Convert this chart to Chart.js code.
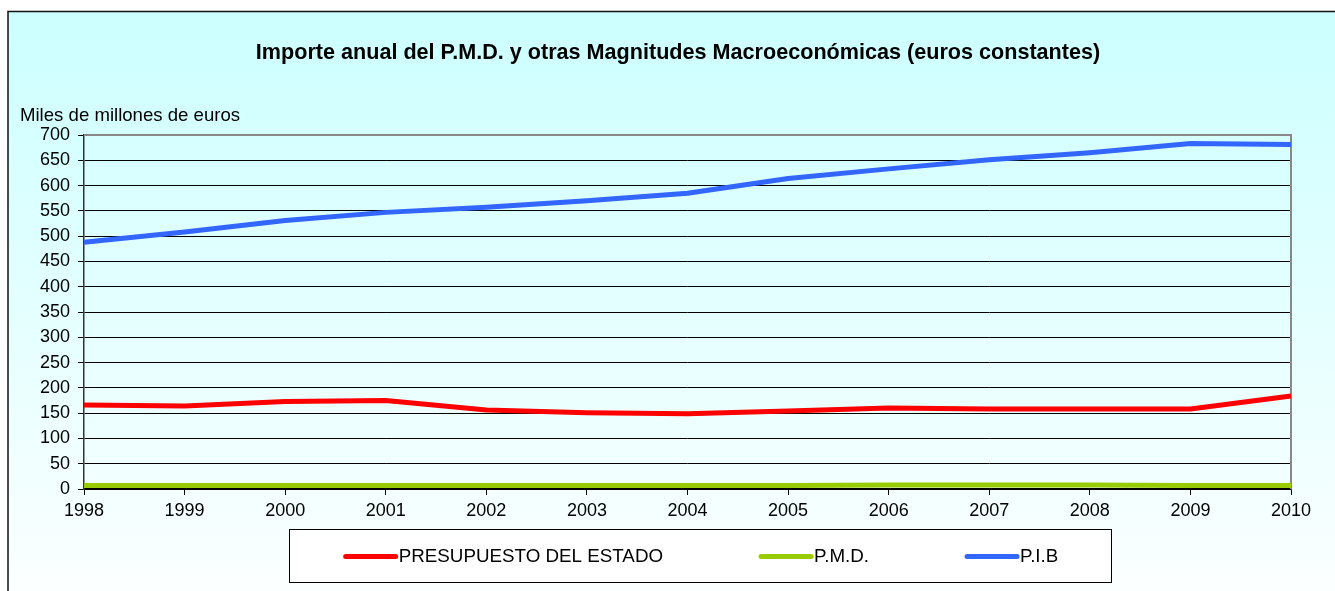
<!DOCTYPE html>
<html>
<head>
<meta charset="utf-8">
<script src="https://cdn.jsdelivr.net/npm/chart.js@4/dist/chart.umd.min.js"></script>
<style>
  html, body { margin: 0; padding: 0; background: #fff; }
  #wrap { width: 1335px; height: 591px; }
</style>
</head>
<body>
<div id="wrap"><canvas id="chart" width="1335" height="591"></canvas></div>
<script>
const years = ['1998', '1999', '2000', '2001', '2002', '2003', '2004', '2005', '2006', '2007', '2008', '2009', '2010'];
const presupuesto = [166, 164, 173, 175, 156, 151, 149, 154, 160, 158, 158, 158, 184];
const pmd = [7, 7, 7, 7, 7, 7, 7, 7, 8, 8, 8, 7, 7];
const pib = [488, 508, 531, 547, 557, 570, 585, 614, 633, 651, 665, 683, 681];

const chartTitle = 'Importe anual del P.M.D. y otras Magnitudes Macroeconómicas (euros constantes)';
const unitLabel = 'Miles de millones de euros';

const FONT = 'Arial, "Liberation Sans", sans-serif';

// background, frame, titles and the boxed legend
const decor = {
  id: 'decor',
  beforeDraw(chart) {
    const ctx = chart.ctx;
    const w = chart.width, h = chart.height;
    ctx.save();
    const g = ctx.createLinearGradient(0, 11, 0, 600);
    g.addColorStop(0, '#ccffff');
    g.addColorStop(1, '#fcffff');
    ctx.fillStyle = g;
    ctx.fillRect(8, 11, w - 8, h - 11);
    ctx.strokeStyle = '#111';
    ctx.lineWidth = 1.5;
    ctx.beginPath();
    ctx.moveTo(8, h);
    ctx.lineTo(8, 11.5);
    ctx.lineTo(w, 11.5);
    ctx.stroke();

    ctx.fillStyle = '#000';
    ctx.textBaseline = 'middle';
    ctx.font = 'bold 21.6px ' + FONT;
    ctx.textAlign = 'center';
    ctx.fillText(chartTitle, 678, 53);
    ctx.font = '18.6px ' + FONT;
    ctx.textAlign = 'left';
    ctx.fillText(unitLabel, 20, 116);
    ctx.restore();
  },
  beforeDatasetsDraw(chart) {
    const { ctx, chartArea: a } = chart;
    ctx.save();
    ctx.strokeStyle = '#888';
    ctx.lineWidth = 2;
    ctx.beginPath();
    ctx.moveTo(a.left, a.top);
    ctx.lineTo(a.right, a.top);
    ctx.lineTo(a.right, a.bottom);
    ctx.stroke();
    ctx.restore();
  },
  afterDraw(chart) {
    const ctx = chart.ctx;
    const box = { x: 289, y: 529, w: 822, h: 53 };
    ctx.save();
    ctx.fillStyle = '#fff';
    ctx.fillRect(box.x, box.y, box.w, box.h);
    ctx.strokeStyle = '#000';
    ctx.lineWidth = 1;
    ctx.strokeRect(box.x + 0.5, box.y + 0.5, box.w, box.h);

    ctx.font = '18.8px ' + FONT;
    const lineLen = 54, gapText = 1, gapItem = 96;
    const items = chart.data.datasets.map(ds => ({
      label: ds.label, color: ds.borderColor, tw: ctx.measureText(ds.label).width
    }));
    let total = 0;
    items.forEach((it, i) => { total += lineLen + gapText + it.tw + (i ? gapItem : 0); });
    let x = box.x + box.w / 2 - total / 2 + 1;
    const y = box.y + box.h / 2 + 1;
    ctx.textBaseline = 'middle';
    ctx.textAlign = 'left';
    ctx.lineCap = 'round';
    items.forEach(it => {
      ctx.strokeStyle = it.color;
      ctx.lineWidth = 5;
      ctx.beginPath();
      ctx.moveTo(x + 2, y);
      ctx.lineTo(x + lineLen - 2, y);
      ctx.stroke();
      ctx.fillStyle = '#000';
      ctx.fillText(it.label, x + lineLen + gapText, y);
      x += lineLen + gapText + it.tw + gapItem;
    });
    ctx.restore();
  }
};

new Chart(document.getElementById('chart').getContext('2d'), {
  type: 'line',
  data: {
    labels: years,
    datasets: [
      { label: 'PRESUPUESTO DEL ESTADO', data: presupuesto, borderColor: '#ff0000' },
      { label: 'P.M.D.', data: pmd, borderColor: '#99cc00' },
      { label: 'P.I.B', data: pib, borderColor: '#3366ff' }
    ]
  },
  options: {
    responsive: false,
    animation: false,
    events: [],
    layout: { padding: { top: 135, left: 8, right: 44, bottom: 72 } },
    elements: {
      line: { borderWidth: 5, tension: 0, fill: false, borderJoinStyle: 'round' },
      point: { radius: 0 }
    },
    plugins: {
      legend: { display: false },
      title: { display: false },
      tooltip: { enabled: false }
    },
    scales: {
      x: {
        offset: false,
        afterFit: s => { s.height = 30; },
        grid: { drawOnChartArea: false, drawTicks: true, tickLength: 6, color: '#000' },
        border: { color: '#000', width: 1.5 },
        ticks: { color: '#000', font: { family: FONT, size: 18 }, padding: 5, maxRotation: 0, autoSkip: false }
      },
      y: {
        min: 0,
        max: 700,
        afterFit: s => { s.width = 76; },
        grid: { color: '#000', lineWidth: 1, tickLength: 6 },
        border: { color: '#333', width: 1.5 },
        ticks: { stepSize: 50, color: '#000', font: { family: FONT, size: 18 }, padding: 8 }
      }
    }
  },
  plugins: [decor]
});
</script>
</body>
</html>
